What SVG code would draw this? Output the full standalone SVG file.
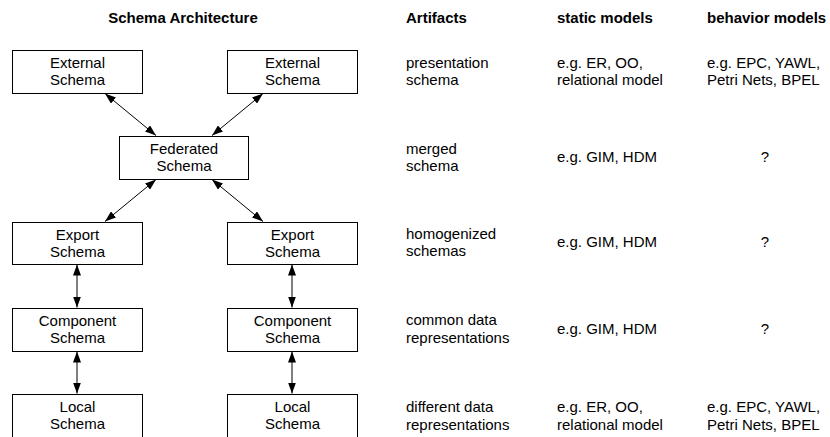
<svg xmlns="http://www.w3.org/2000/svg" width="830" height="437" viewBox="0 0 830 437">
<style>
text{font-family:"Liberation Sans",Arial,sans-serif;font-size:15px;fill:#000}
.h{font-weight:bold}
.c{text-anchor:middle}
.box{fill:#fff;stroke:#000;stroke-width:1}
.con{stroke:#000;stroke-width:1;fill:none;marker-start:url(#a);marker-end:url(#a)}
</style>
<defs>
<marker id="a" viewBox="0 0 11 8" refX="11" refY="4" markerWidth="11" markerHeight="8" markerUnits="userSpaceOnUse" orient="auto-start-reverse">
<path d="M0,0 L11,4 L0,8 Z" fill="#000"/>
</marker>
</defs>
<rect width="830" height="437" fill="#fff"/>
<g id="headers">
<text class="h c" x="183" y="23">Schema Architecture</text>
<text class="h" x="406" y="23">Artifacts</text>
<text class="h" x="557" y="23">static models</text>
<text class="h" x="707" y="23">behavior models</text>
</g>
<g id="connectors">
<line class="con" x1="105" y1="93.5" x2="156" y2="135.5"/>
<line class="con" x1="263" y1="93.5" x2="212" y2="135.5"/>
<line class="con" x1="156" y1="179.5" x2="105" y2="221.5"/>
<line class="con" x1="212" y1="179.5" x2="263" y2="221.5"/>
<line class="con" x1="77" y1="264.5" x2="77" y2="307.5"/>
<line class="con" x1="292" y1="264.5" x2="292" y2="307.5"/>
<line class="con" x1="77" y1="351.5" x2="77" y2="393.5"/>
<line class="con" x1="292" y1="351.5" x2="292" y2="393.5"/>
</g>
<g id="ext1"><rect class="box" x="12.5" y="50.5" width="130" height="43"/><text class="c" x="77.5" y="68">External</text><text class="c" x="77.5" y="85">Schema</text></g>
<g id="ext2"><rect class="box" x="227.5" y="50.5" width="130" height="43"/><text class="c" x="292.5" y="68">External</text><text class="c" x="292.5" y="85">Schema</text></g>
<g id="fed"><rect class="box" x="119.5" y="136.5" width="129" height="43"/><text class="c" x="184" y="153.5">Federated</text><text class="c" x="184" y="170.5">Schema</text></g>
<g id="exp1"><rect class="box" x="12.5" y="222.5" width="130" height="42"/><text class="c" x="77.5" y="239.5">Export</text><text class="c" x="77.5" y="256.5">Schema</text></g>
<g id="exp2"><rect class="box" x="227.5" y="222.5" width="130" height="42"/><text class="c" x="292.5" y="239.5">Export</text><text class="c" x="292.5" y="256.5">Schema</text></g>
<g id="comp1"><rect class="box" x="12.5" y="308.5" width="130" height="43"/><text class="c" x="77.5" y="325.5">Component</text><text class="c" x="77.5" y="342.5">Schema</text></g>
<g id="comp2"><rect class="box" x="227.5" y="308.5" width="130" height="43"/><text class="c" x="292.5" y="325.5">Component</text><text class="c" x="292.5" y="342.5">Schema</text></g>
<g id="loc1"><rect class="box" x="12.5" y="394.5" width="130" height="44"/><text class="c" x="77.5" y="412">Local</text><text class="c" x="77.5" y="429">Schema</text></g>
<g id="loc2"><rect class="box" x="227.5" y="394.5" width="130" height="44"/><text class="c" x="292.5" y="412">Local</text><text class="c" x="292.5" y="429">Schema</text></g>
<g id="table">
<text x="406" y="67.5">presentation</text><text x="406" y="85">schema</text>
<text x="557" y="67.5">e.g. ER, OO,</text><text x="557" y="85">relational model</text>
<text x="707" y="67.5">e.g. EPC, YAWL,</text><text x="707" y="85">Petri Nets, BPEL</text>
<text x="406" y="153.5">merged</text><text x="406" y="170.5">schema</text>
<text x="557" y="162">e.g. GIM, HDM</text>
<text class="c" x="765" y="162">?</text>
<text x="406" y="238.5">homogenized</text><text x="406" y="256">schemas</text>
<text x="557" y="247">e.g. GIM, HDM</text>
<text class="c" x="765" y="247">?</text>
<text x="406" y="325">common data</text><text x="406" y="342.5">representations</text>
<text x="557" y="333.5">e.g. GIM, HDM</text>
<text class="c" x="765" y="333.5">?</text>
<text x="406" y="412">different data</text><text x="406" y="429.5">representations</text>
<text x="557" y="412">e.g. ER, OO,</text><text x="557" y="429.5">relational model</text>
<text x="707" y="412">e.g. EPC, YAWL,</text><text x="707" y="429.5">Petri Nets, BPEL</text>
</g>
</svg>
